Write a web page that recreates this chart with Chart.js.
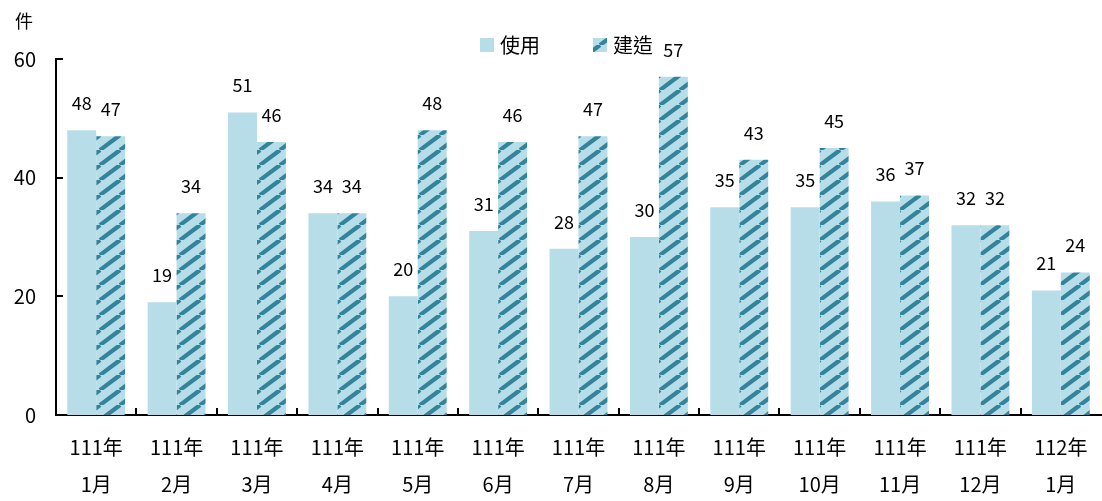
<!DOCTYPE html>
<html>
<head>
<meta charset="utf-8">
<script src="https://cdn.jsdelivr.net/npm/chart.js@4/dist/chart.umd.min.js"></script>
<style>
html,body{margin:0;padding:0;background:#fff;}
#wrap{width:1102px;height:501px;position:relative;}
</style>
</head>
<body>
<div id="wrap"><canvas id="c" width="1102" height="501"></canvas></div>
<script>
const categories = [["111年","1月"],["111年","2月"],["111年","3月"],["111年","4月"],["111年","5月"],["111年","6月"],["111年","7月"],["111年","8月"],["111年","9月"],["111年","10月"],["111年","11月"],["111年","12月"],["112年","1月"]];
const useValues = [48,19,51,34,20,31,28,30,35,35,36,32,21];
const buildValues = [47,34,46,34,48,46,47,57,43,45,37,32,24];
const seriesNames = ["使用","建造"];
const yTicks = [0,20,40,60];
const unitLabel = "件";

const FONT = '"Noto Sans CJK TC","Noto Sans",sans-serif';
const LIGHT = '#b7dde8';
const DARK = '#31849b';

function makePattern(){
  const W = 20, H = 15;
  const t = document.createElement('canvas');
  t.width = W; t.height = H;
  const g = t.getContext('2d');
  g.fillStyle = LIGHT; g.fillRect(0,0,W,H);
  g.strokeStyle = DARK; g.lineWidth = 4.2;
  for (const x0 of [-W, 0, W]) {
    g.beginPath(); g.moveTo(x0, H); g.lineTo(x0 + W, 0); g.stroke();
  }
  return document.getElementById('c').getContext('2d').createPattern(t, 'repeat');
}
const hatch = makePattern();

const decor = {
  id: 'decor',
  afterDatasetsDraw(chart){
    const ctx = chart.ctx;
    ctx.save();
    // data labels
    ctx.font = '18px ' + FONT;
    ctx.fillStyle = '#000';
    ctx.textAlign = 'center';
    ctx.textBaseline = 'middle';
    chart.data.datasets.forEach((ds, di) => {
      chart.getDatasetMeta(di).data.forEach((el, i) => {
        ctx.fillText(String(ds.data[i]), el.x, el.y - 27);
      });
    });
    // inner tick marks
    const xs = chart.scales.x, ys = chart.scales.y, ca = chart.chartArea;
    ctx.strokeStyle = '#000'; ctx.lineWidth = 2;
    ctx.beginPath();
    yTicks.forEach(v => {
      if (v === 0) return;
      const py = Math.round(ys.getPixelForValue(v));
      ctx.moveTo(ca.left, py); ctx.lineTo(ca.left + 7, py);
    });
    for (let i = 1; i < categories.length; i++) {
      const px = Math.round((xs.getPixelForValue(i - 1) + xs.getPixelForValue(i)) / 2);
      ctx.moveTo(px, ca.bottom); ctx.lineTo(px, ca.bottom - 7);
    }
    ctx.stroke();
    // unit label
    ctx.font = '18px ' + FONT;
    ctx.textAlign = 'left';
    ctx.fillText(unitLabel, 15, 21);
    // legend
    ctx.font = '20px ' + FONT;
    const items = [{x:480, fill: LIGHT, text: seriesNames[0]}, {x:593, fill: hatch, text: seriesNames[1]}];
    items.forEach(it => {
      ctx.fillStyle = it.fill;
      ctx.fillRect(it.x, 38, 14, 14);
      ctx.fillStyle = '#000';
      ctx.fillText(it.text, it.x + 20, 45);
    });
    ctx.restore();
  }
};

new Chart(document.getElementById('c'), {
  type: 'bar',
  data: {
    labels: categories,
    datasets: [
      {label: seriesNames[0], data: useValues, backgroundColor: LIGHT, borderWidth: 0},
      {label: seriesNames[1], data: buildValues, backgroundColor: hatch, borderWidth: 0}
    ]
  },
  options: {
    responsive: false,
    animation: false,
    devicePixelRatio: 1,
    layout: {padding: {top: 59, right: 1, left: 0, bottom: 0}},
    plugins: {legend: {display: false}, tooltip: {enabled: false}},
    datasets: {bar: {categoryPercentage: 0.72, barPercentage: 1}},
    scales: {
      x: {
        grid: {display: false, drawTicks: false},
        border: {display: true, color: '#000', width: 2},
        ticks: {color: '#000', font: {family: FONT, size: 20, lineHeight: 1.85}, padding: 14, maxRotation: 0, autoSkip: false},
        afterFit(s){ s.height = 86; }
      },
      y: {
        min: 0, max: 60,
        grid: {display: false, drawTicks: false},
        border: {display: true, color: '#000', width: 2},
        ticks: {stepSize: 20, color: '#000', font: {family: FONT, size: 20}, padding: 20},
        afterFit(s){ s.width = 56; }
      }
    }
  },
  plugins: [decor]
});
</script>
</body>
</html>
